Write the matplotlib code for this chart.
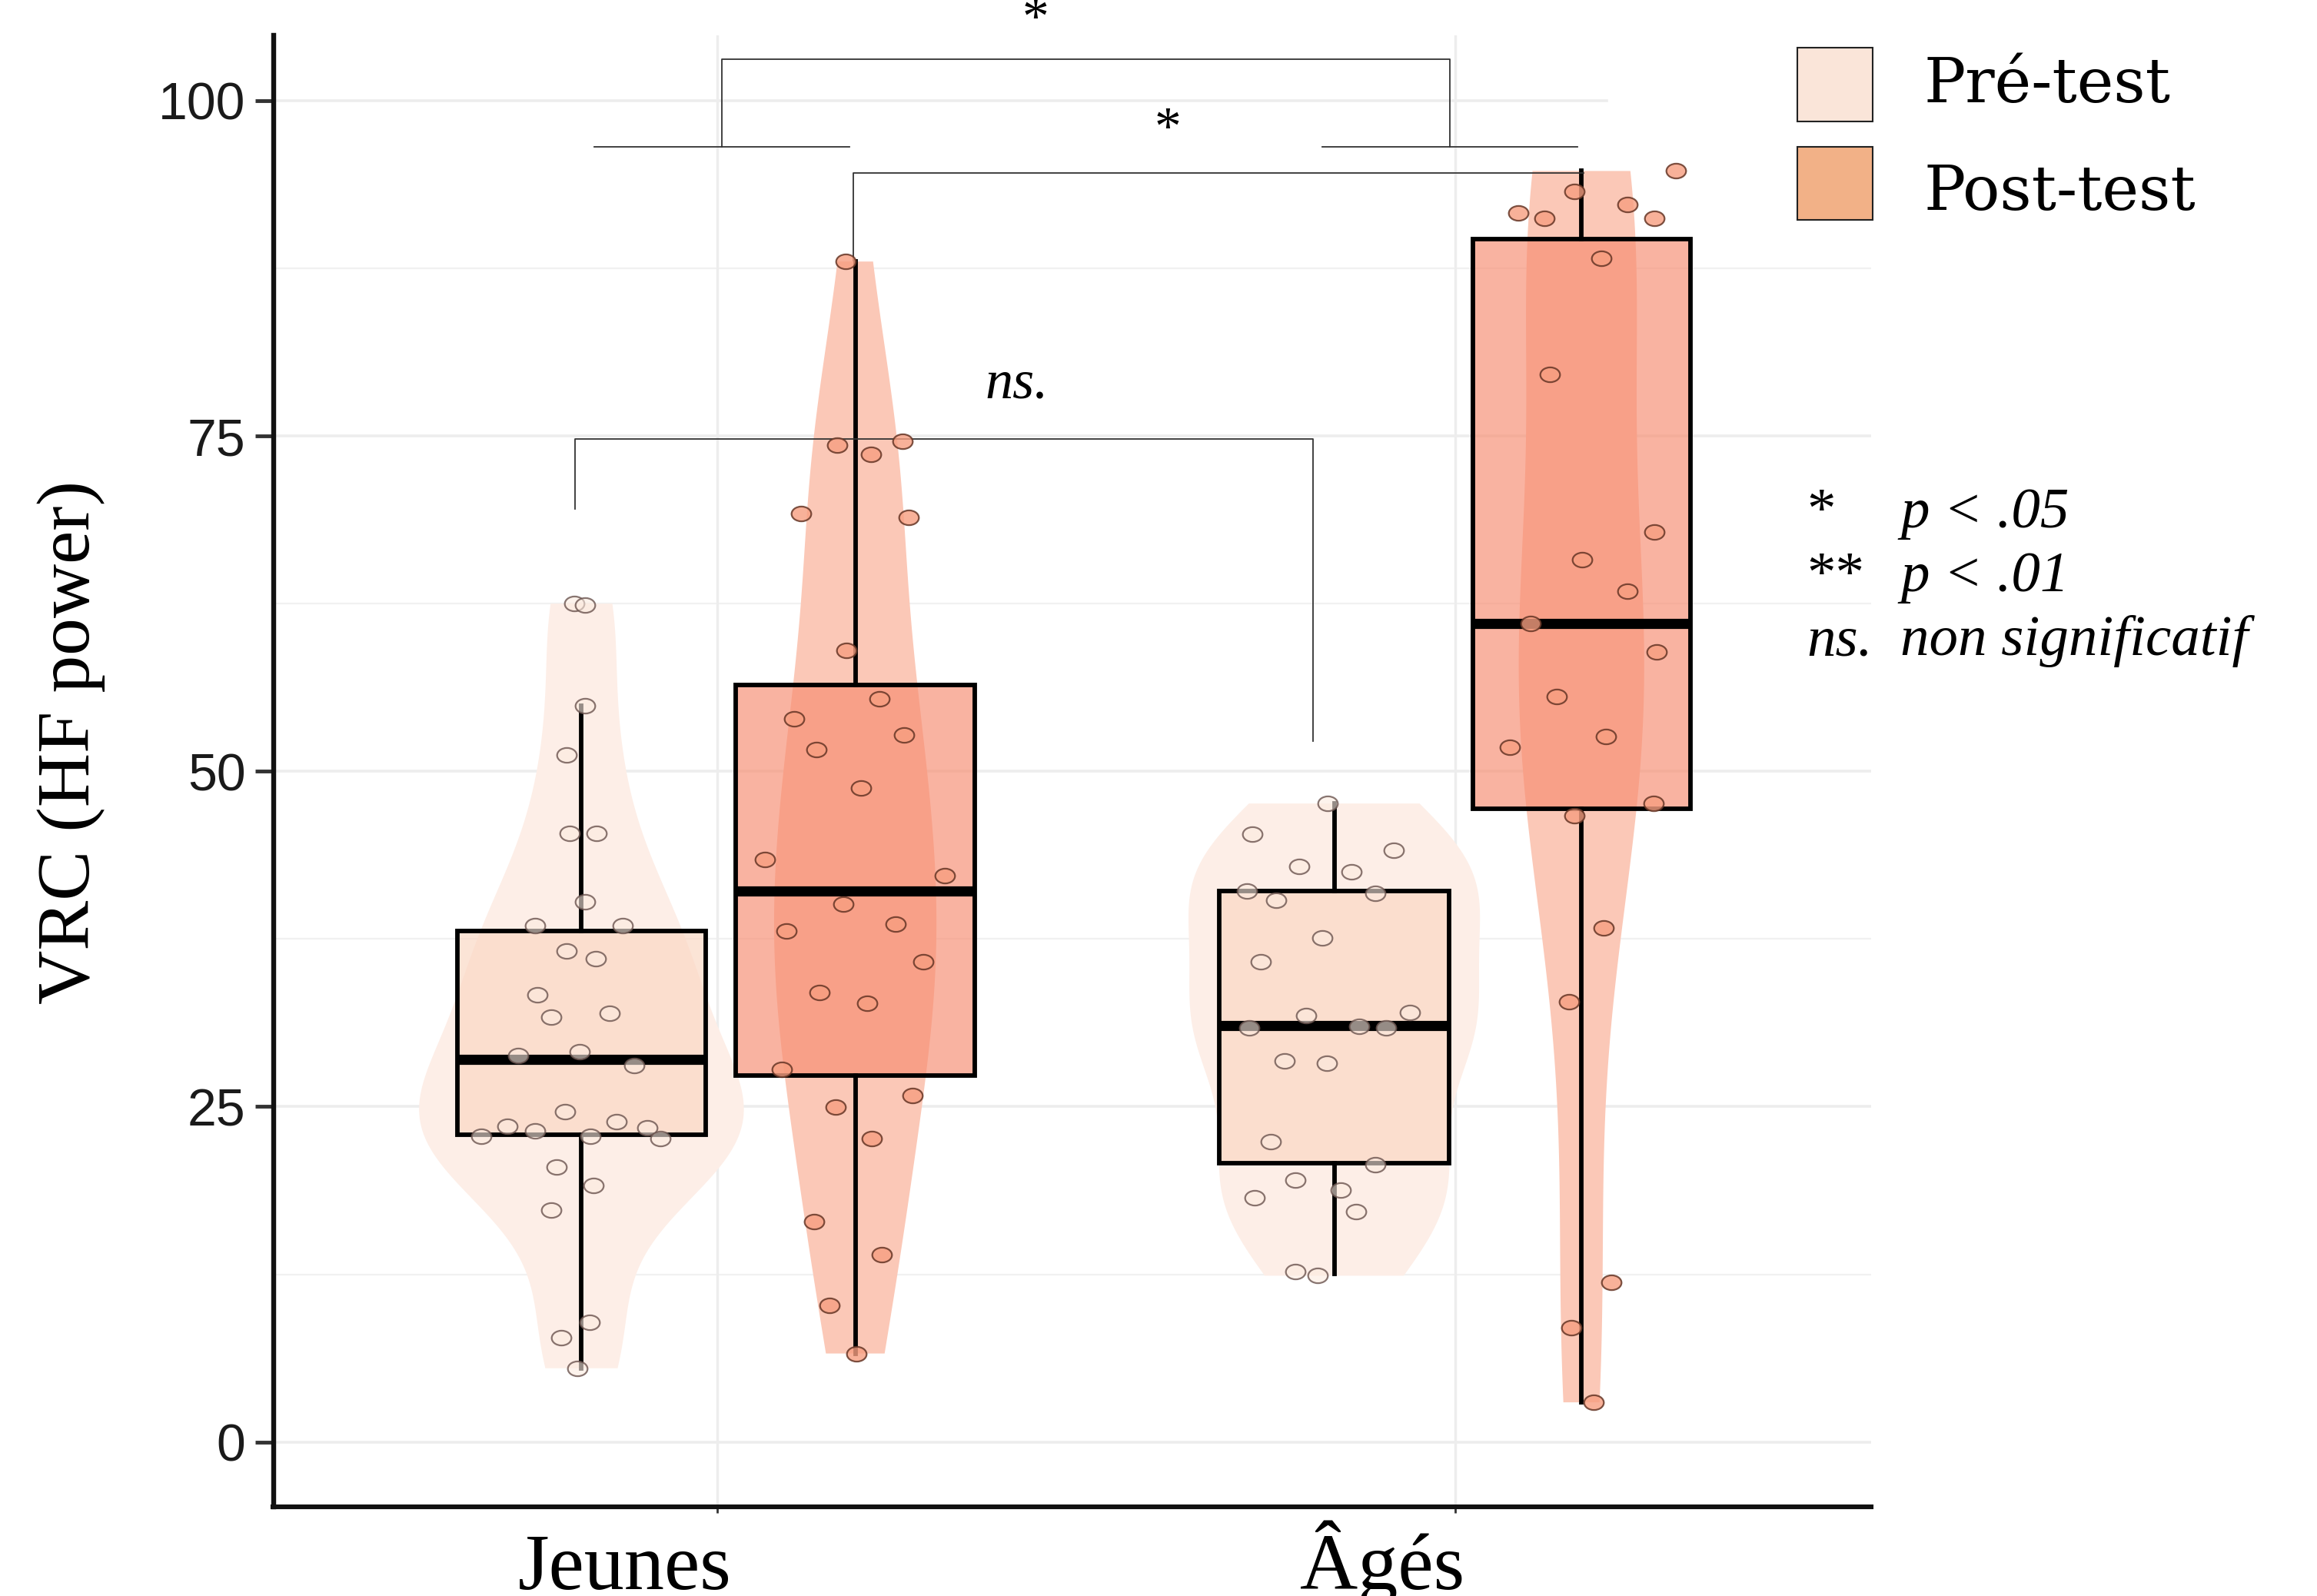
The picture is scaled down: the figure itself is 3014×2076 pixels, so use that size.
import numpy as np
import matplotlib
matplotlib.use("Agg")
import matplotlib.pyplot as plt
import matplotlib.transforms as mtrans
from matplotlib.path import Path
from matplotlib.patches import Rectangle

# ---- data ----
groups = ["Jeunes", "Âgés"]
conditions = ["Pré-test", "Post-test"]

# Jeunes, pre-test
jp_vals = [62.5, 62.4, 54.9, 51.2, 45.4, 45.4, 40.3, 38.5, 38.5, 36.6,
           36.05, 33.35, 31.65, 31.97, 28.83, 29.07, 28.06, 24.6, 23.55, 23.2,
           23.87, 23.4, 22.8, 22.8, 22.6, 20.5, 19.1, 17.3, 8.9, 7.8, 5.5]
jp_jit = [-0.01, 0.005, 0.005, -0.02, -0.016, 0.02, 0.005, -0.063, 0.056, -0.02,
          0.019, -0.06, -0.041, 0.038, -0.086, -0.002, 0.071, -0.022, -0.1, -0.063,
          0.048, 0.089, -0.136, 0.012, 0.107, -0.034, 0.016, -0.041, 0.011, -0.027, -0.006]
# Jeunes, post-test
jpo_vals = [88.0, 74.3, 73.6, 74.6, 69.2, 68.9, 59.0, 55.4, 53.9, 52.7,
            51.6, 48.75, 43.4, 42.2, 40.1, 38.1, 38.6, 35.8, 33.5, 32.7,
            27.8, 25.85, 24.96, 22.6, 16.45, 13.95, 10.2, 6.6]
jpo_jit = [-0.013, -0.025, 0.021, 0.064, -0.074, 0.072, -0.012, 0.033, -0.083, 0.066,
           -0.053, 0.008, -0.122, 0.121, -0.016, -0.093, 0.055, 0.092, -0.049, 0.016,
           -0.1, 0.078, -0.027, 0.022, -0.056, 0.036, -0.035, 0.001]
# Âgés, pre-test
ap_vals = [47.6, 45.3, 44.1, 42.9, 42.5, 41.1, 40.4, 40.9, 37.6, 35.8,
           31.8, 32.0, 30.85, 31.0, 30.85, 28.4, 28.25, 22.4, 20.7, 19.5,
           18.8, 18.2, 17.2, 12.7, 12.4]
ap_jit = [-0.009, -0.111, 0.081, -0.048, 0.023, -0.118, -0.079, 0.056, -0.016, -0.1,
          -0.038, 0.103, -0.115, 0.034, 0.07, -0.067, -0.01, -0.086, 0.056, -0.053,
          0.009, -0.108, 0.03, -0.053, -0.023]
# Âgés, post-test
apo_vals = [94.75, 93.2, 92.27, 91.6, 91.24, 91.24, 88.26, 79.6, 67.85, 65.75,
            63.4, 61.0, 58.9, 55.6, 52.6, 51.8, 47.6, 46.7, 38.3, 32.8,
            11.9, 8.55, 2.96]
apo_jit = [0.128, -0.01, 0.0625, -0.086, -0.05, 0.099, 0.027, -0.043, 0.099, 0.001,
           0.0625, -0.069, 0.102, -0.034, 0.033, -0.097, 0.098, -0.01, 0.03, -0.017,
           0.04, -0.014, 0.016]

# box statistics (Jeunes pre, Jeunes post, Âgés pre, Âgés post)
whislo = [5.5, 6.6, 12.55, 2.96]
q1 = [22.9, 27.3, 20.76, 47.2]
med = [28.5, 41.1, 31.03, 61.0]
q3 = [38.1, 56.45, 41.05, 89.7]
whishi = [54.9, 88.0, 47.6, 94.75]

yticks = [0, 25, 50, 75, 100]

# ---- layout ----
W, H = 3014, 2076
fig = plt.figure(figsize=(W/100, H/100), dpi=100)
ax = fig.add_axes([355.5/W, 1-1960/H, (2434-355.5)/W, (1960-46)/H])
x0, x1 = 0.3984, 2.5635

pos = [0.816, 1.187, 1.836, 2.171]
box_w = [0.336, 0.324, 0.312, 0.295]
vio_w = [0.44, 0.22, 0.395, 0.17]
datasets = [jp_vals, jpo_vals, ap_vals, apo_vals]
jitters = [jp_jit, jpo_jit, ap_jit, apo_jit]
is_post = [False, True, False, True]

vio_col = {False: "#FDEEE7", True: "#FBC8B7"}
box_col = {False: (0.98, 0.84, 0.76, 0.66), True: (0.97, 0.55, 0.44, 0.66)}
pt_face = {False: (0.99, 0.92, 0.88, 0.6), True: (0.97, 0.62, 0.50, 0.8)}
pt_edge = {False: (0.42, 0.33, 0.31, 0.8), True: (0.40, 0.21, 0.15, 0.85)}

# grid drawn by hand (the line at 100 stops short in the picture)
gc = "#EDEDED"
for yv in yticks:
    xe = 2.205 if yv == 100 else x1
    ax.plot([x0, xe], [yv, yv], color=gc, lw=2.6, zorder=0)
for yv in [12.5, 37.5, 62.5, 87.5]:
    ax.plot([x0, x1], [yv, yv], color="#F1F1F1", lw=1.6, zorder=0)
for xv in [1, 2]:
    ax.axvline(xv, color=gc, lw=2.4, zorder=0)

# violins (bandwidth like R's bw.nrd0)
for d, p, w, post in zip(datasets, pos, vio_w, is_post):
    a = np.array(d)
    sd = a.std(ddof=1)
    iqr = np.subtract(*np.percentile(a, [75, 25]))
    bw = 0.9 * min(sd, iqr/1.34) * len(a)**-0.2
    v = ax.violinplot([a], positions=[p], widths=[w], showextrema=False,
                      bw_method=bw/sd, points=200)
    for b in v["bodies"]:
        b.set_facecolor(vio_col[post])
        b.set_edgecolor("none")
        b.set_alpha(1)
        b.set_zorder(1)

# boxes
stats = []
for i in range(4):
    stats.append(dict(whislo=whislo[i], q1=q1[i], med=med[i], q3=q3[i],
                      whishi=whishi[i], fliers=[]))
bp = ax.bxp(stats, positions=pos, widths=box_w, patch_artist=True,
            showfliers=False, showcaps=False,
            boxprops=dict(linewidth=4.2, edgecolor="black"),
            whiskerprops=dict(linewidth=4.2, color="black"),
            medianprops=dict(linewidth=9.5, color="black", solid_capstyle="butt"),
            zorder=2)
for patch, post in zip(bp["boxes"], is_post):
    patch.set_facecolor(box_col[post])

# jittered points (slightly flattened circles, as in the picture)
ell = Path.unit_circle().transformed(mtrans.Affine2D().scale(1, 0.75))
for d, jt, p, post in zip(datasets, jitters, pos, is_post):
    xs = [p + j for j in jt]
    ax.scatter(xs, d, marker=ell, s=340, facecolor=pt_face[post],
               edgecolor=pt_edge[post], linewidth=1.6, zorder=3)

# axes styling
ax.set_xlim(x0, x1)
ax.set_ylim(-4.83, 104.86)
ax.set_yticks(yticks)
ax.set_xticks([1, 2])
ax.set_xticklabels(["", ""])
for s in ["top", "right"]:
    ax.spines[s].set_visible(False)
ax.spines["left"].set_linewidth(4.6)
ax.spines["bottom"].set_linewidth(4.4)
ax.spines["left"].set_color("#111111")
ax.spines["bottom"].set_color("#111111")
ax.tick_params(axis="y", length=17, width=3.5, color="#333333",
               pad=9, labelsize=49, labelcolor="#1a1a1a")
ax.tick_params(axis="x", length=6, width=2, color="#333333")
for lab in ax.get_yticklabels():
    lab.set_fontfamily("Liberation Sans")

# category labels (placed left of the ticks, like the picture)
xfig = mtrans.blended_transform_factory(ax.transData, fig.transFigure)
for g, gx in zip(groups, [0.875, 1.901]):
    ax.text(gx, 0.0045, g, transform=xfig, ha="center", va="baseline",
            family="Liberation Serif", fontsize=75, clip_on=False)

fig.text(93/W, 1-966/H, "VRC (HF power)", rotation=90, ha="center", va="center",
         family="Liberation Serif", fontsize=70)

# significance brackets
lc = "#333333"
blw = 1.3
ax.plot([1.006, 1.006, 1.993, 1.993], [96.57, 103.07, 103.07, 96.57], color=lc, lw=blw, clip_on=False)
ax.plot([0.833, 1.179], [96.57, 96.57], color=lc, lw=blw)
ax.plot([1.820, 2.166], [96.57, 96.57], color=lc, lw=blw)
ax.text(1.431, 105.0, "*", ha="center", va="baseline", family="Liberation Serif",
        fontsize=50, clip_on=False)

ax.plot([1.184, 1.184, 2.174], [88.07, 94.62, 94.62], color=lc, lw=blw)
ax.text(1.610, 96.8, "*", ha="center", va="baseline", family="Liberation Serif", fontsize=50)

ax.plot([0.807, 0.807, 1.807, 1.807], [69.56, 74.75, 74.75, 52.27], color=lc, lw=blw)
ax.text(1.406, 77.85, "ns.", ha="center", va="baseline", family="Liberation Serif",
        style="italic", fontsize=52)

# legend (drawn by hand)
sw = [("Pré-test", "#FAE5D9", 62, 158, 133), ("Post-test", "#F2B187", 190.6, 285.9, 272.7)]
for lab, col, ytop, ybot, base in sw:
    fig.add_artist(Rectangle((2337.6/W, 1-ybot/H), (2436.2-2337.6)/W, (ybot-ytop)/H,
                             transform=fig.transFigure, facecolor=col,
                             edgecolor="#222222", linewidth=1.5))
    fig.text(2502.7/W, 1-base/H, lab, ha="left", va="baseline",
             family="DejaVu Serif", fontsize=58)

# p-value key
keys = [("*", "p < .05", 686), ("**", "p < .01", 769), ("ns.", "non significatif", 852.5)]
for k, txt, base in keys:
    fig.text(2350/W, 1-base/H, k, ha="left", va="baseline", family="Liberation Serif",
             style="italic" if k == "ns." else "normal", fontsize=54)
    fig.text(2472/W, 1-base/H, txt, ha="left", va="baseline", family="Liberation Serif",
             style="italic", fontsize=54)

fig.savefig("out.png", dpi=100, facecolor="white")
